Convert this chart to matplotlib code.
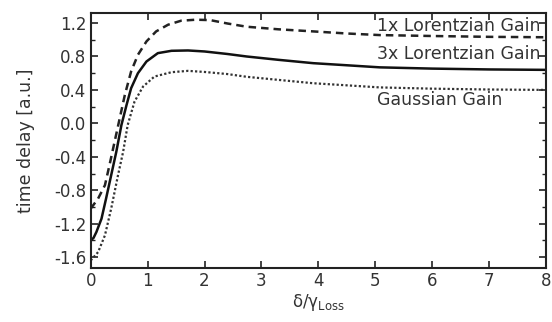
import matplotlib
matplotlib.use("Agg")
import matplotlib.pyplot as plt
from matplotlib.ticker import MultipleLocator

# --- datos ---
x_lor1 = [0, 0.13, 0.25, 0.33, 0.42, 0.51, 0.60, 0.71, 0.83, 0.98, 1.15, 1.36, 1.59,
          1.85, 2.1, 2.4, 2.74, 3.3, 3.91, 4.5, 5.08, 6.0, 7.0, 8.0]
y_lor1 = [-1.02, -0.90, -0.74, -0.50, -0.22, 0.06, 0.34, 0.62, 0.82, 0.98, 1.10, 1.18, 1.228,
          1.24, 1.235, 1.195, 1.156, 1.125, 1.10, 1.075, 1.056, 1.045, 1.035, 1.03]

x_lor3 = [0, 0.05, 0.10, 0.19, 0.27, 0.36, 0.45, 0.54, 0.63, 0.71, 0.83, 0.98, 1.18, 1.42,
          1.71, 2.0, 2.4, 2.74, 3.3, 3.91, 4.5, 5.08, 6.0, 7.0, 8.0]
y_lor3 = [-1.40, -1.37, -1.30, -1.14, -0.90, -0.62, -0.34, -0.02, 0.22, 0.42, 0.60, 0.74, 0.84,
          0.868, 0.872, 0.86, 0.83, 0.80, 0.76, 0.72, 0.695, 0.67, 0.655, 0.645, 0.64]

x_gauss = [0, 0.13, 0.25, 0.36, 0.48, 0.57, 0.65, 0.77, 0.92, 1.12, 1.42, 1.71, 2.0, 2.4,
           2.74, 3.3, 3.91, 4.5, 5.08, 6.0, 7.0, 8.0]
y_gauss = [-1.64, -1.54, -1.34, -1.02, -0.62, -0.34, -0.02, 0.26, 0.44, 0.56, 0.612, 0.628,
           0.615, 0.59, 0.557, 0.52, 0.48, 0.455, 0.43, 0.415, 0.405, 0.40]

etiquetas = ["1x Lorentzian Gain", "3x Lorentzian Gain", "Gaussian Gain"]

TXT = "#333333"
plt.rcParams["font.family"] = ["DejaVu Sans"]

fig = plt.figure(figsize=(5.52, 3.22), dpi=100)
ax = fig.add_axes([0.1643, 0.1677, 0.8247, 0.7919])

ax.plot(x_lor1, y_lor1, color="#222222", lw=1.8, dashes=(3, 2))
ax.plot(x_lor3, y_lor3, color="#111111", lw=1.8)
ax.plot(x_gauss, y_gauss, color="#333333", lw=1.6, linestyle=(0, (1, 1)))

ax.text(5.04, 1.16, etiquetas[0], fontsize=12.5, color=TXT, va="center")
ax.text(5.04, 0.83, etiquetas[1], fontsize=12.5, color=TXT, va="center")
ax.text(5.04, 0.28, etiquetas[2], fontsize=12.5, color=TXT, va="center")

ax.set_xlim(0, 8)
ax.set_ylim(-1.73, 1.32)
ax.xaxis.set_major_locator(MultipleLocator(1))
ax.yaxis.set_major_locator(MultipleLocator(0.4))
ax.yaxis.set_minor_locator(MultipleLocator(0.2))
ax.yaxis.set_major_formatter(plt.FuncFormatter(lambda v, p: f"{v:.1f}"))

ax.tick_params(which="both", direction="in", top=True, right=True, colors="#222222",
               labelcolor=TXT, labelsize=12)
ax.tick_params(which="major", length=5, width=1.2, pad=3)
ax.tick_params(which="minor", length=3, width=1.0)
for s in ax.spines.values():
    s.set_linewidth(1.5)
    s.set_color("#222222")

ax.set_ylabel("time delay [a.u.]", fontsize=12.5, color=TXT, labelpad=14)
ax.set_xlabel(r"δ/γ$_{\mathrm{Loss}}$", fontsize=12, color=TXT, labelpad=1)

fig.savefig("out.png", dpi=100)
